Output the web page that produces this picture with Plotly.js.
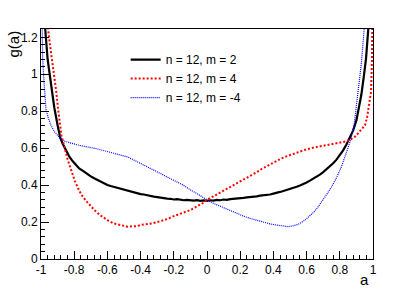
<!DOCTYPE html>
<html>
<head>
<meta charset="utf-8">
<script src="https://cdn.plot.ly/plotly-3.0.1.min.js"></script>
<style>html,body{margin:0;padding:0;background:#fff;}#chart{width:415px;height:289px;}</style>
</head>
<body>
<div id="chart"></div>
<script>
// n = 12, m = 2 (black)
const aBlack = [-0.99,-0.975,-0.96,-0.945,-0.935,-0.92,-0.90,-0.885,-0.87,-0.85,-0.83,-0.81,-0.79,-0.77,-0.745,-0.72,-0.70,-0.68,-0.66,-0.64,-0.62,-0.60,-0.58,-0.56,-0.54,-0.52,-0.50,-0.48,-0.46,-0.44,-0.42,-0.40,-0.38,-0.36,-0.34,-0.32,-0.30,-0.28,-0.26,-0.24,-0.22,-0.20,-0.18,-0.16,-0.14,-0.12,-0.10,-0.08,-0.06,-0.04,-0.02,0.0,0.02,0.04,0.06,0.08,0.10,0.12,0.14,0.16,0.18,0.20,0.22,0.24,0.26,0.28,0.30,0.32,0.34,0.36,0.38,0.40,0.42,0.44,0.46,0.48,0.50,0.52,0.54,0.56,0.58,0.60,0.62,0.64,0.66,0.68,0.70,0.72,0.74,0.76,0.78,0.80,0.82,0.84,0.86,0.88,0.90,0.915,0.93,0.945,0.958,0.972,0.985];
const gBlack = [1.9,1.25,1.08,0.97,0.905,0.82,0.724,0.66,0.625,0.59,0.555,0.53,0.512,0.49,0.476,0.458,0.447,0.437,0.427,0.418,0.41,0.401,0.395,0.39,0.383,0.378,0.372,0.369,0.362,0.359,0.355,0.351,0.349,0.344,0.342,0.338,0.335,0.331,0.331,0.327,0.326,0.322,0.324,0.32,0.318,0.32,0.317,0.316,0.319,0.315,0.317,0.315,0.318,0.316,0.32,0.318,0.322,0.32,0.324,0.326,0.324,0.329,0.331,0.334,0.335,0.337,0.339,0.343,0.344,0.348,0.349,0.354,0.357,0.363,0.368,0.373,0.378,0.385,0.391,0.398,0.405,0.414,0.424,0.434,0.445,0.457,0.47,0.485,0.5,0.518,0.538,0.56,0.588,0.62,0.655,0.695,0.75,0.82,0.89,0.99,1.085,1.25,1.9];

// n = 12, m = 4 (red)
const aRed = [-0.975,-0.958,-0.946,-0.934,-0.92,-0.908,-0.897,-0.887,-0.877,-0.867,-0.855,-0.84,-0.825,-0.81,-0.795,-0.775,-0.755,-0.73,-0.705,-0.675,-0.645,-0.62,-0.595,-0.566,-0.54,-0.51,-0.48,-0.45,-0.42,-0.40,-0.36,-0.33,-0.30,-0.27,-0.24,-0.20,-0.17,-0.14,-0.10,-0.07,-0.04,-0.02,0.0,0.03,0.06,0.09,0.12,0.15,0.18,0.21,0.24,0.27,0.30,0.33,0.36,0.39,0.42,0.45,0.48,0.51,0.54,0.57,0.60,0.63,0.66,0.69,0.72,0.75,0.78,0.81,0.84,0.861,0.88,0.895,0.91,0.93,0.952,0.965,0.972,0.98,0.988,0.994,0.997,0.999];
const gRed = [1.6,1.25,1.16,1.085,0.99,0.905,0.81,0.724,0.67,0.634,0.585,0.54,0.5,0.46,0.42,0.38,0.346,0.316,0.29,0.262,0.238,0.222,0.208,0.194,0.187,0.18,0.175,0.177,0.178,0.184,0.188,0.193,0.2,0.208,0.216,0.232,0.241,0.252,0.265,0.28,0.295,0.305,0.32,0.335,0.348,0.362,0.378,0.392,0.408,0.425,0.44,0.456,0.47,0.488,0.503,0.518,0.532,0.545,0.556,0.566,0.576,0.586,0.594,0.601,0.606,0.612,0.618,0.622,0.627,0.632,0.637,0.645,0.655,0.665,0.68,0.7,0.724,0.77,0.81,0.86,0.905,1.085,1.25,1.6];

// n = 12, m = -4 (blue)
const aBlue = [-0.999,-0.994,-0.99,-0.984,-0.978,-0.97,-0.955,-0.94,-0.92,-0.898,-0.88,-0.86,-0.837,-0.805,-0.77,-0.74,-0.705,-0.67,-0.64,-0.61,-0.584,-0.55,-0.52,-0.48,-0.45,-0.42,-0.39,-0.36,-0.33,-0.30,-0.27,-0.243,-0.21,-0.18,-0.143,-0.11,-0.08,-0.062,-0.03,0.0,0.03,0.06,0.08,0.108,0.14,0.17,0.20,0.229,0.26,0.29,0.32,0.35,0.38,0.41,0.44,0.47,0.49,0.52,0.55,0.59,0.62,0.645,0.67,0.70,0.725,0.75,0.78,0.81,0.83,0.85,0.866,0.886,0.91,0.93,0.948,0.96];
const gBlue = [1.6,1.25,1.085,0.99,0.905,0.81,0.76,0.724,0.69,0.67,0.648,0.638,0.632,0.622,0.615,0.61,0.605,0.598,0.591,0.584,0.575,0.566,0.562,0.553,0.54,0.527,0.513,0.5,0.486,0.472,0.458,0.445,0.43,0.415,0.4,0.38,0.364,0.355,0.338,0.32,0.305,0.293,0.285,0.274,0.262,0.25,0.24,0.229,0.22,0.212,0.204,0.196,0.19,0.185,0.18,0.177,0.175,0.18,0.188,0.21,0.232,0.255,0.283,0.32,0.355,0.39,0.44,0.5,0.555,0.6,0.645,0.724,0.905,1.06,1.26,1.5];

const names = ['n = 12, m = 2', 'n = 12, m = 4', 'n = 12, m = -4'];
const xTicks = [-1,-0.8,-0.6,-0.4,-0.2,0,0.2,0.4,0.6,0.8,1];
const xTickText = ['-1','-0.8','-0.6','-0.4','-0.2','0','0.2','0.4','0.6','0.8','1'];
const yTicks = [0,0.2,0.4,0.6,0.8,1,1.2];
const yTickText = ['0','0.2','0.4','0.6','0.8','1','1.2'];

const FONT = 'Liberation Sans, Arial, Helvetica, sans-serif';

const traces = [
  {x: aBlack, y: gBlack, name: names[0], mode: 'lines', line: {color: '#000000', width: 2.2}},
  {x: aRed, y: gRed, name: names[1], mode: 'lines', line: {color: '#ff0000', width: 2, dash: '2px,2px'}},
  {x: aBlue, y: gBlue, name: names[2], mode: 'lines', line: {color: '#0000ff', width: 1.2, dash: '1px,1px'}}
];

const axisCommon = {
  showgrid: false, zeroline: false, showline: true, linecolor: '#000', linewidth: 1, mirror: true,
  ticks: 'inside', ticklen: 8, tickcolor: '#000', tickwidth: 1,
  tickfont: {family: FONT, size: 12, color: '#000'},
  minor: {ticks: 'inside', ticklen: 4, tickcolor: '#000', tickwidth: 1, dtick: 0.04, showgrid: false}
};

const layout = {
  width: 415, height: 289,
  margin: {l: 41, r: 42, t: 29, b: 30},
  paper_bgcolor: '#fff', plot_bgcolor: '#fff',
  showlegend: true,
  legend: {x: 0.255, y: 0.93, xanchor: 'left', yanchor: 'top', bgcolor: 'rgba(0,0,0,0)',
           font: {family: FONT, size: 12, color: '#000'}, tracegroupgap: 0},
  xaxis: Object.assign({}, axisCommon, {range: [-1, 1], tickvals: xTicks, ticktext: xTickText}),
  yaxis: Object.assign({}, axisCommon, {range: [0, 1.245], tickvals: yTicks, ticktext: yTickText}),
  annotations: [
    {text: 'a', xref: 'paper', yref: 'paper', x: 1.0, y: 0, xanchor: 'right', yanchor: 'top', yshift: -10, xshift: -2,
     showarrow: false, font: {family: FONT, size: 15, color: '#000'}},
    {text: 'g(a)', xref: 'paper', yref: 'paper', x: 0, y: 1, xanchor: 'center', yanchor: 'top', xshift: -28,
     textangle: -90, showarrow: false, font: {family: FONT, size: 15, color: '#000'}}
  ]
};

Plotly.newPlot('chart', traces, layout, {displayModeBar: false, staticPlot: true});
</script>
</body>
</html>
